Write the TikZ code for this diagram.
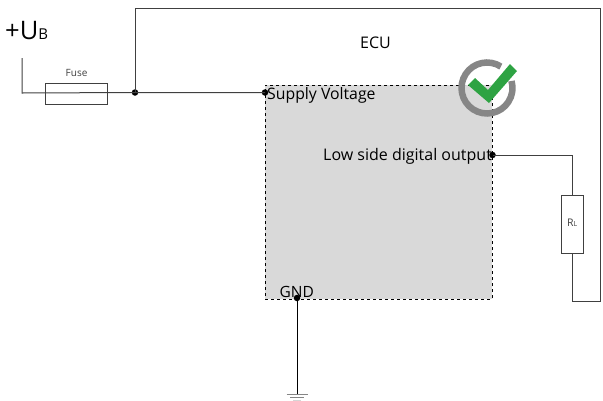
\documentclass[tikz,border=0pt]{standalone}
\usepackage{fontspec}
\setmainfont{Open Sans}
\usetikzlibrary{calc}
\definecolor{panel}{HTML}{D9D9D9}
\definecolor{wire}{HTML}{404040}
\definecolor{ring}{HTML}{868686}
\definecolor{tick}{HTML}{2EA343}
\tikzset{
  wirel/.style={draw=wire,line width=1pt},
  part/.style={draw=wire,line width=1pt,inner sep=0pt,minimum width=0pt},
  junction/.style={circle,fill=black,inner sep=0pt,minimum size=6.5pt},
  lab/.style={inner sep=0pt,anchor=base west,text=black},
}
\begin{document}
\begin{tikzpicture}[x=1pt,y=-1pt]
\useasboundingbox (0,0) rectangle (603,400);
% ECU panel
\node[fill=panel,draw=black,dashed,line width=0.8pt,inner sep=0pt,minimum width=227pt,minimum height=214pt,anchor=north west] (ecu) at (265,85) {};
% points
\coordinate (start) at (22,58);
\coordinate (corner) at (22,93);
\node[junction] (j1) at (135,92.5) {};
\node[junction] (supply) at (265,92.5) {};
\node[junction] (out) at (492.5,155) {};
\node[junction] (gnd) at (297,298) {};
\coordinate (top1) at (135,8);
\coordinate (top2) at (600,8);
\coordinate (bot2) at (600,301);
\coordinate (bot1) at (572,301);
\coordinate (rtop) at (572,155);
\coordinate (earth) at (297,394);
% wires
\draw[wirel] (start) -- (corner) -- (j1.center) -- (supply.center);
\draw[wirel] (j1.center) -- (top1) -- (top2) -- (bot2) -- (bot1) -- (rtop) -- (out.center);
\draw[draw=black,line width=1pt] (gnd.center) -- (earth);
% parts
\node[part,minimum width=62pt,minimum height=21pt] (fuse) at (76,93.5) {};
\node[part,fill=white,minimum width=22pt,minimum height=58pt] (rl) at (572,224) {};
% earth
\draw[draw=ring,line width=1pt] ($(earth)+(-10.5,0)$) -- ($(earth)+(10.5,0)$);
\draw[draw=ring,line width=1pt] ($(earth)+(-7,3)$) -- ($(earth)+(7,3)$);
\fill[ring!35] ($(earth)+(-4,5.5)$) rectangle ($(earth)+(4,6)$);
% labels
\node[lab,font=\fontsize{25.5}{25.5}\selectfont] (ub) at (5,39) {+U\fontsize{15}{15}\selectfont B};
\node[lab,font=\fontsize{10}{10}\selectfont,text=wire] (fuselab) at (65.5,76) {Fuse};
\node[lab,font=\fontsize{16}{16}\selectfont] (ecut) at (360,48) {ECU};
\node[lab,font=\fontsize{15.8}{15.8}\selectfont] (sv) at (267,99) {Supply Voltage};
\node[lab,font=\fontsize{16}{16}\selectfont] (ld) at (323,160) {Low side digital output};
\node[lab,font=\fontsize{15.5}{15.5}\selectfont] (gl) at (279.5,297) {GND};
\node[lab,font=\fontsize{10.5}{10.5}\selectfont,text=wire] (rlab) at (567,226) {R\fontsize{7}{7}\selectfont L};
% check badge
\draw[draw=ring,line width=6.5pt] (500.9,66.6) arc[start angle=-57,end angle=-376,radius=25.5];
\fill[tick] (468,85) -- (475,78) -- (488,90) -- (510,64) -- (517,71) -- (489,103) -- cycle;
\end{tikzpicture}
\end{document}
